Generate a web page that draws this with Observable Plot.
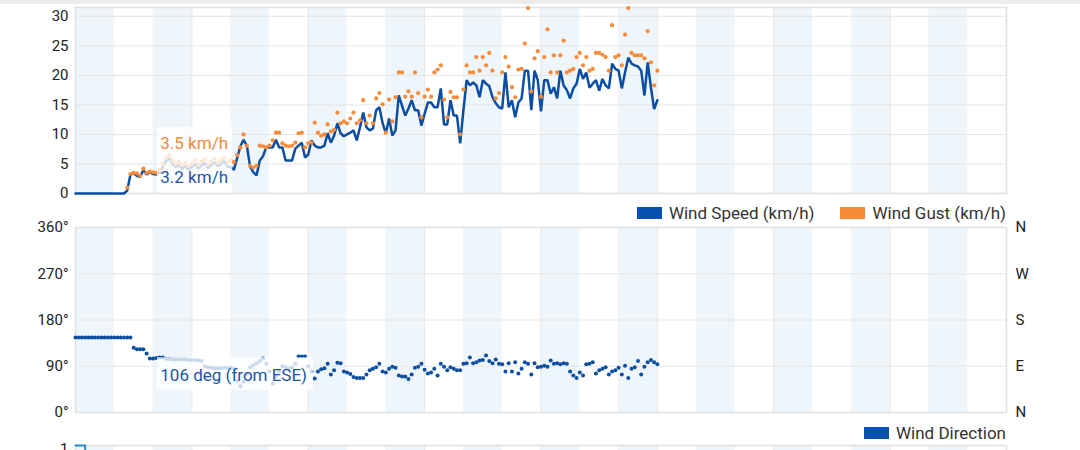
<!DOCTYPE html>
<html>
<head>
<meta charset="utf-8">
<script src="https://cdn.jsdelivr.net/npm/d3@7"></script>
<script src="https://cdn.jsdelivr.net/npm/@observablehq/plot@0.6"></script>
<style>
  body { margin: 0; background: #fff; font-family: Roboto, "Noto Sans", sans-serif; }
  #wrap { position: relative; width: 1080px; }
  .topbar { position: absolute; left: 0; top: 0; width: 1080px; height: 4px; background: #ececec; z-index: 2; }
  .legend { height: 20px; display: flex; justify-content: flex-end; align-items: center; padding-right: 74px; font-size: 17px; color: #333; position: relative; z-index: 1; }
  .item { display: flex; align-items: center; margin-left: 26px; }
  .sw { display: inline-block; width: 25px; height: 12px; margin-right: 7px; }
  #wrap svg { display: block; overflow: visible !important; }
</style>
</head>
<body>
<div id="wrap">
  <div class="topbar"></div>
  <div id="speedChart"></div>
  <div class="legend" id="legend1"></div>
  <div id="dirChart"></div>
  <div class="legend" id="legend2"></div>
  <div id="rainChart"></div>
</div>
<script>
// ---- Data (5-minute samples from 00:00) ----
const speed = [
  0,0,0,0,0,0,0,0,0,0,0,0,
  0,0,0,0,0.5,3.2,3.4,3.0,2.8,4.0,3.2,3.6,
  3.3,3.2,3.5,4.5,5.5,6.0,5.0,4.5,4.8,4.2,4.6,4.0,
  4.5,5.0,4.2,4.8,5.2,4.3,4.8,5.3,4.6,5.0,5.5,4.5,
  4.5,4.0,6.0,8.0,9.1,8.1,4.6,3.6,3.05,5.6,6.3,7.8,
  7.8,7.8,9.1,7.8,7.8,5.6,5.6,5.6,7.6,8.1,8.6,6.1,
  6.6,9.0,8.1,7.8,7.8,8.1,10.2,8.6,9.8,11.9,10.2,9.7,
  10.0,10.3,10.7,9.0,11.2,13.7,11.2,10.7,11.0,14.1,14.6,11.9,
  10.2,12.7,9.8,10.7,16.6,14.9,13.2,14.4,15.8,14.1,14.1,11.5,
  13.5,15.4,15.4,14.6,14.6,17.8,11.7,11.7,15.8,13.2,13.2,8.5,
  14.1,19.2,18.3,18.8,18.3,16.3,19.2,18.6,18.2,16.3,15.3,14.6,
  14.4,20.5,14.6,15.8,12.9,15.4,16.1,20.8,20.8,14.1,20.8,19.2,
  13.9,19.2,19.2,16.9,18.0,16.1,20.8,18.3,17.5,16.1,17.8,18.6,
  21.1,19.4,20.5,17.9,18.6,19.2,17.4,19.4,18.3,17.8,22.0,21.1,
  20.8,17.8,20.5,23.0,22.0,21.7,21.5,20.8,16.6,22.2,18.0,14.3,
  15.8
];
const gust = [
  null,null,null,null,null,null,null,null,null,null,null,null,
  null,null,null,null,1.0,3.3,3.5,3.4,3.0,4.2,3.5,3.7,
  3.6,3.5,4.0,5.0,6.0,6.4,5.6,5.0,5.3,4.8,5.2,4.6,
  5.0,5.6,4.8,5.4,5.8,4.9,5.4,5.9,5.2,5.6,6.0,5.2,
  5.6,5.3,6.5,7.8,10.0,8.1,4.7,4.4,4.7,8.1,8.0,7.8,
  8.1,9.0,10.3,10.3,8.5,8.1,8.0,8.1,8.6,10.2,10.3,7.8,
  8.5,8.6,12.0,10.3,9.8,10.0,11.7,10.5,10.8,13.7,11.9,12.2,
  11.9,12.7,13.7,11.9,12.4,15.8,11.9,13.2,11.9,16.1,17.0,15.1,
  10.3,15.9,12.2,16.3,20.5,20.5,16.4,17.3,16.4,20.5,17.0,12.9,
  16.4,17.6,16.4,20.5,21.0,21.7,15.9,12.9,17.2,16.3,16.3,10.0,
  17.6,21.7,20.5,20.5,23.1,20.8,23.1,21.7,23.8,20.8,16.1,17.0,
  20.5,23.1,21.5,18.0,16.3,21.0,21.1,25.4,31.4,17.3,22.9,24.1,
  16.4,23.1,27.8,20.5,23.4,20.5,23.4,25.9,20.5,20.8,21.1,23.1,
  23.8,21.7,23.1,20.8,21.1,23.8,23.8,23.5,23.1,20.8,28.5,23.1,
  23.4,21.7,26.9,31.4,23.8,23.4,23.4,23.4,22.9,27.5,22.2,18.3,
  20.8
];
const direction = [
  146,146,146,146,146,146,146,146,146,146,146,146,
  146,146,146,146,146,146,126,123,123,123,115,105,
  105,106,107,107,104,104,103,103,103,103,103,102,
  102,102,101,100,90,88,87,86,86,86,87,86,
  87,85,62,51,60,75,88,92,96,100,105,95,
  80,56,70,80,90,88,85,88,95,109,109,109,
  90,80,66,80,84,86,95,74,82,97,96,80,
  78,75,69,67,67,67,74,82,85,88,95,80,
  78,85,89,87,72,70,70,65,74,87,89,95,
  83,76,78,85,72,95,89,82,88,85,82,82,
  95,96,107,96,98,101,102,111,100,96,103,95,
  94,80,96,80,98,76,85,98,95,74,96,88,
  89,91,89,101,95,96,94,96,95,80,72,67,
  78,72,94,95,98,76,82,85,88,74,80,82,
  87,74,91,67,85,88,100,74,89,98,102,98,
  94
];
const rain = [1,1,1,0,0,0,0,0,0,0,0,0, 0,0,0,0,0,0,0,0,0,0,0,0];

const speedTicks = [0, 5, 10, 15, 20, 25, 30];
const dirTicks = [0, 90, 180, 270, 360];
const dirLabels = ["N", "E", "S", "W", "N"];
const rainTicks = [1];
const seriesNames = ["Wind Speed (km/h)", "Wind Gust (km/h)", "Wind Direction"];
const hoverIndex = 25;
const hoverSpeedText = "3.2 km/h";
const hoverGustText = "3.5 km/h";
const hoverDirText = "106 deg (from ESE)";

// ---- Styles ----
const BLUE = "#0b4ea2";
const ORANGE = "#f58b3b";
const BAND = "#eef5fb";
const GRID = "#e6e6e6";
const FRAME = "#e0e0e0";
const TICK = { tickSize: 0, label: null, fill: "#222", fontSize: 15 };

const stepH = 1 / 12;
const rows = speed.map((s, i) => ({ t: i * stepH, speed: s, gust: gust[i], dir: direction[i] }));
const rainRows = rain.map((r, i) => ({ t: i * stepH, rain: r }));
const bands = d3.range(0, 24, 2).map(h => ({ x1: h, x2: h + 1 }));
const gridXTicks = d3.range(3, 24, 3);
const hoverT = hoverIndex * stepH;

const common = {
  width: 1080, marginLeft: 75, marginRight: 74,
  x: { domain: [0, 24], axis: null },
  style: { fontFamily: "Roboto, sans-serif", fontSize: "15px", color: "#222", background: "transparent", overflow: "visible" }
};

const speedPlot = Plot.plot({
  ...common,
  height: 203, marginTop: 7, marginBottom: 10,
  y: { domain: [0, 31.5], axis: null },
  marks: [
    Plot.rect(bands, { x1: "x1", x2: "x2", fill: BAND }),
    Plot.gridX(gridXTicks, { stroke: GRID, strokeOpacity: 1 }),
    Plot.gridY(speedTicks, { stroke: GRID, strokeOpacity: 1 }),
    Plot.frame({ stroke: FRAME, strokeWidth: 1.5 }),
    Plot.axisY(speedTicks, { ...TICK, anchor: "left", tickPadding: 7 }),
    Plot.line(rows, { x: "t", y: "speed", stroke: BLUE, strokeWidth: 2.5, strokeLinejoin: "miter" }),
    Plot.dot(rows.filter(d => d.gust != null), { x: "t", y: "gust", r: 2.1, fill: ORANGE, stroke: null }),
    Plot.rect([{ a: hoverT + 0.03, b: hoverT + 1.97 }], { x1: "a", x2: "b", y1: 0, y2: 11.2, fill: "white", fillOpacity: 0.78 }),
    Plot.text([hoverGustText], { x: hoverT, y: 8.45, text: d => d, dx: 4, textAnchor: "start", fill: "#f08a3f", fontSize: 17 }),
    Plot.text([hoverSpeedText], { x: hoverT, y: 2.7, text: d => d, dx: 4, textAnchor: "start", fill: "#1b55a3", fontSize: 17 })
  ]
});
document.getElementById("speedChart").append(speedPlot);

const dirPlot = Plot.plot({
  ...common,
  height: 200, marginTop: 4, marginBottom: 11,
  y: { domain: [0, 360], axis: null },
  marks: [
    Plot.rect(bands, { x1: "x1", x2: "x2", fill: BAND }),
    Plot.gridX(gridXTicks, { stroke: GRID, strokeOpacity: 1 }),
    Plot.gridY(dirTicks, { stroke: GRID, strokeOpacity: 1 }),
    Plot.frame({ stroke: FRAME, strokeWidth: 1.5 }),
    Plot.axisY(dirTicks, { ...TICK, anchor: "left", tickPadding: 7, tickFormat: d => d + "°" }),
    Plot.axisY(dirTicks, { ...TICK, anchor: "right", tickPadding: 9, tickFormat: (d, i) => dirLabels[i] }),
    Plot.dot(rows, { x: "t", y: "dir", r: 2, fill: BLUE, stroke: null }),
    Plot.rect([{ a: hoverT + 0.03, b: hoverT + 4.05 }], { x1: "a", x2: "b", y1: 43, y2: 106.5, fill: "white", fillOpacity: 0.78 }),
    Plot.text([hoverDirText], { x: hoverT, y: 72, text: d => d, dx: 4, textAnchor: "start", fill: "#1b55a3", fontSize: 17 })
  ]
});
document.getElementById("dirChart").append(dirPlot);

const rainPlot = Plot.plot({
  ...common,
  height: 100, marginTop: 2, marginBottom: 10,
  y: { domain: [0, 1], axis: null },
  marks: [
    Plot.rect(bands, { x1: "x1", x2: "x2", fill: BAND }),
    Plot.gridX(gridXTicks, { stroke: GRID, strokeOpacity: 1 }),
    Plot.frame({ stroke: FRAME, strokeWidth: 1.5 }),
    Plot.axisY(rainTicks, { ...TICK, anchor: "left", tickPadding: 7, dy: 4, tickFormat: d => String(d) }),
    Plot.line(rainRows, { x: "t", y: "rain", curve: "step-after", stroke: "#2a8fc4", strokeWidth: 2 })
  ]
});
document.getElementById("rainChart").append(rainPlot);

// ---- Legends ----
function legend(el, items) {
  const node = document.getElementById(el);
  items.forEach(([name, color]) => {
    const it = document.createElement("div");
    it.className = "item";
    const sw = document.createElement("span");
    sw.className = "sw";
    sw.style.background = color;
    const tx = document.createElement("span");
    tx.textContent = name;
    it.append(sw, tx);
    node.append(it);
  });
}
legend("legend1", [[seriesNames[0], "#0550b0"], [seriesNames[1], "#f68b38"]]);
legend("legend2", [[seriesNames[2], "#0550b0"]]);
</script>
</body>
</html>
